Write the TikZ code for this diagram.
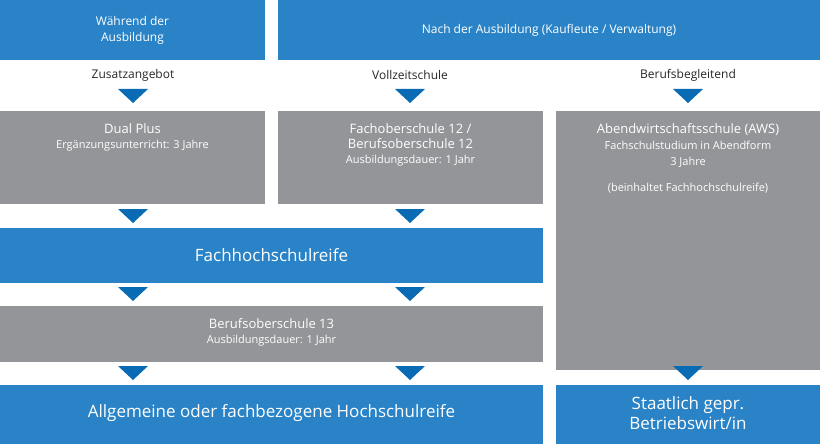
\documentclass[tikz,border=0pt]{standalone}
\usepackage{fontspec}
\setmainfont{Open Sans}
\definecolor{bl}{HTML}{2A83C6}
\definecolor{tri}{HTML}{0A6BB5}
\definecolor{gr}{HTML}{939598}
\begin{document}
\begin{tikzpicture}[x=1pt,y=-1pt,
 bbox/.style={fill=bl,text=white,inner sep=0,align=center},
 gbox/.style={fill=gr,text=white,inner sep=0,align=center},
 lbl/.style={font=\fontsize{12}{14}\selectfont,text=black!85}]
\useasboundingbox (0,0) rectangle (820,444);
\newcommand\arr[2]{\fill[tri] (#1-15,#2) -- (#1+15,#2) -- (#1,#2+14) -- cycle;}
\fill[bl] (0,0) rectangle (265,60);
\node[text=white,align=center,font=\fontsize{12}{16}\selectfont] (wa) at (132.5,30) {Während der\\Ausbildung};
\fill[bl] (278,0) rectangle (820,60);
\node[text=white,font=\fontsize{12}{16}\selectfont] (na) at (549,30) {Nach der Ausbildung (Kaufleute / Verwaltung)};
\node[lbl] (l1) at (133,75) {Zusatzangebot};
\node[lbl] (l2) at (410,75) {Vollzeitschule};
\node[lbl] (l3) at (688,75) {Berufsbegleitend};
\arr{133}{89}\arr{410}{89}\arr{688}{89}
\fill[gr] (0,111) rectangle (265,204);
\node[text=white,align=center,anchor=north,font=\fontsize{11}{15}\selectfont] (dp) at (132.5,120) {{\fontsize{13}{17}\selectfont Dual Plus}\\Ergänzungsunterricht: 3 Jahre};
\fill[gr] (278,111) rectangle (543,204);
\node[text=white,align=center,anchor=north,font=\fontsize{11}{15}\selectfont] (fo) at (410.5,120) {{\fontsize{13}{17}\selectfont Fachoberschule 12 /}\\{\fontsize{13}{17}\selectfont Berufsoberschule 12}\\Ausbildungsdauer: 1 Jahr};
\fill[gr] (556,111) rectangle (820,370);
\node[text=white,align=center,anchor=north,font=\fontsize{11}{16}\selectfont] (aws) at (688,120) {{\fontsize{13}{17}\selectfont Abendwirtschaftsschule (AWS)}\\Fachschulstudium in Abendform\\3 Jahre\\[10pt](beinhaltet Fachhochschulreife)};
\arr{133}{209}\arr{410}{209}
\fill[bl] (0,228) rectangle (543,283);
\node[text=white,font=\fontsize{17}{20}\selectfont] (fh) at (271.5,255) {Fachhochschulreife};
\arr{133}{287}\arr{410}{287}
\fill[gr] (0,306) rectangle (543,362);
\node[text=white,align=center,font=\fontsize{11}{15}\selectfont] (bo) at (271.5,332) {{\fontsize{13}{17}\selectfont Berufsoberschule 13}\\Ausbildungsdauer: 1 Jahr};
\arr{133}{366}\arr{410}{366}\arr{688}{366}
\fill[bl] (0,385) rectangle (543,444);
\node[text=white,font=\fontsize{17}{20}\selectfont] (ah) at (271.5,413) {Allgemeine oder fachbezogene Hochschulreife};
\fill[bl] (556,385) rectangle (820,444);
\node[text=white,align=center,font=\fontsize{17}{20}\selectfont] (sb) at (688,413) {Staatlich gepr.\\Betriebswirt/in};
\end{tikzpicture}
\end{document}
